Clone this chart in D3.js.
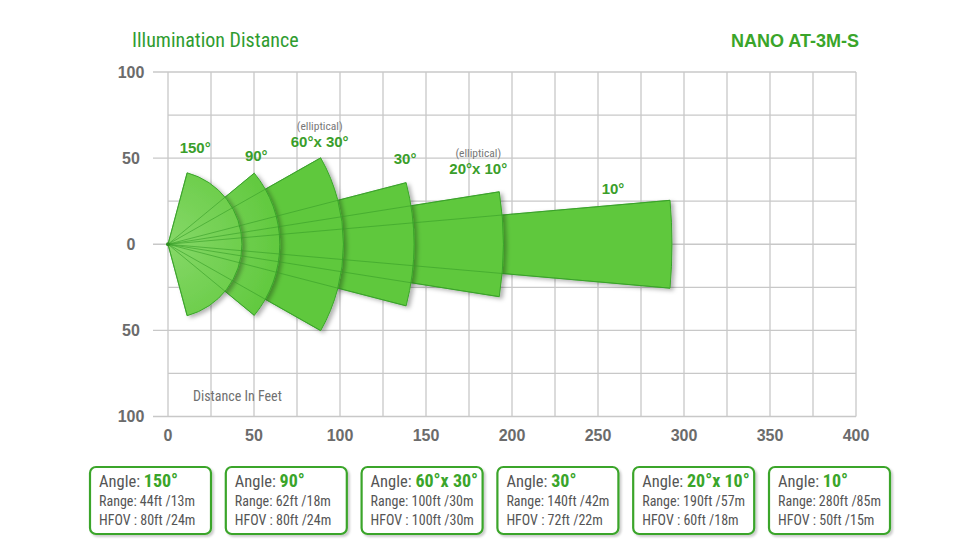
<!DOCTYPE html>
<html>
<head>
<meta charset="utf-8">
<script src="https://cdn.jsdelivr.net/npm/d3@7"></script>
<style>
body { margin: 0; background: #fff; }
svg { display: block; }
.cond { font-family: "Liberation Sans Narrow", "Roboto Condensed", "Arial Narrow", "DejaVu Sans Condensed", sans-serif; }
.sans { font-family: "Liberation Sans", Arial, sans-serif; }
</style>
</head>
<body>
<svg id="chart" width="978" height="550"></svg>
<script>
// beam data
var beamNames = ["150°", "90°", "60°x 30°", "30°", "20°x 10°", "10°"];
var beamNotes = ["", "", "(elliptical)", "", "(elliptical)", ""];
var rangeFt = [44, 62, 100, 140, 190, 280];
var rangeM = [13, 18, 30, 42, 57, 85];
var hfovFt = [80, 80, 100, 72, 60, 50];
var hfovM = [24, 24, 30, 22, 18, 15];
// how far / how wide each wedge is drawn (feet, degrees)
var reachFt = [43, 65, 102, 143, 195, 293];
var spreadDeg = [150, 79, 59, 29, 18, 10];
var xTicks = [0, 50, 100, 150, 200, 250, 300, 350, 400];
var yTicks = [100, 50, 0, -50, -100];

var green = "#3aa52a", fillGreen = "#5fc83c", grey = "#6b6b6b";

var svg = d3.select('#chart');
var x = d3.scaleLinear().domain([0, 400]).range([168, 856]);
var y = d3.scaleLinear().domain([-100, 100]).range([416.5, 72]);
var unit = x(1) - x(0);

var defs = svg.append('defs');
var sh = defs.append('filter').attr('id', 'beamShadow')
    .attr('x', '-20%').attr('y', '-20%').attr('width', '140%').attr('height', '140%');
sh.append('feDropShadow').attr('dx', 3).attr('dy', 2).attr('stdDeviation', 2)
    .attr('flood-color', '#000').attr('flood-opacity', 0.3);
var bs = defs.append('filter').attr('id', 'boxShadow')
    .attr('x', '-10%').attr('y', '-10%').attr('width', '130%').attr('height', '130%');
bs.append('feDropShadow').attr('dx', 2).attr('dy', 2).attr('stdDeviation', 1.2)
    .attr('flood-color', '#000').attr('flood-opacity', 0.2);
var grad = defs.append('radialGradient').attr('id', 'beamFill')
    .attr('gradientUnits', 'userSpaceOnUse').attr('cx', 0).attr('cy', 0).attr('r', 120);
grad.append('stop').attr('offset', 0).attr('stop-color', '#86d868');
grad.append('stop').attr('offset', 1).attr('stop-color', fillGreen);

// titles
svg.append('text').attr('class', 'cond').attr('x', 132).attr('y', 47)
    .attr('font-size', 20).attr('fill', '#2f9c30').text('Illumination Distance');
svg.append('text').attr('class', 'sans').attr('x', 859).attr('y', 47)
    .attr('text-anchor', 'end').attr('font-size', 18).attr('font-weight', 'bold')
    .attr('fill', green).text('NANO AT-3M-S');

// grid
var grid = svg.append('g').attr('stroke', '#c8c8c8').attr('stroke-width', 1.3);
grid.selectAll('.v').data(d3.range(0, 401, 25)).enter().append('line')
    .attr('x1', d => x(d)).attr('x2', d => x(d))
    .attr('y1', y(100)).attr('y2', y(-100));
grid.selectAll('.h').data(d3.range(-100, 101, 25)).enter().append('line')
    .attr('x1', d => d % 50 === 0 ? 153 : x(0)).attr('x2', x(400))
    .attr('y1', d => y(d)).attr('y2', d => y(d));

// tick labels
svg.selectAll('.ytick').data(yTicks).enter().append('text')
    .attr('class', 'sans').attr('x', 131).attr('y', d => y(d)).attr('dy', '0.36em')
    .attr('text-anchor', 'middle').attr('font-size', 16).attr('font-weight', 'bold')
    .attr('fill', grey).text(d => Math.abs(d));
svg.selectAll('.xtick').data(xTicks).enter().append('text')
    .attr('class', 'sans').attr('x', d => x(d)).attr('y', y(-100) + 24)
    .attr('text-anchor', 'middle').attr('font-size', 16).attr('font-weight', 'bold')
    .attr('fill', grey).text(d => d);
svg.append('text').attr('class', 'cond').attr('x', 193).attr('y', 401)
    .attr('font-size', 14).attr('fill', '#707070').text('Distance In Feet');

// wedges, longest at the back
var beams = beamNames.map((n, i) => ({
    i: i, r: reachFt[i] * unit, half: spreadDeg[i] / 2 * Math.PI / 180
}));
var arc = d3.arc().innerRadius(0);
var g = svg.append('g').attr('transform', 'translate(' + x(0) + ',' + y(0) + ')');
g.selectAll('path.beam').data(beams.slice().reverse()).enter().append('path')
    .attr('class', 'beam')
    .attr('d', d => arc({ outerRadius: d.r, startAngle: Math.PI / 2 - d.half, endAngle: Math.PI / 2 + d.half }))
    .attr('fill', 'url(#beamFill)').attr('stroke', green).attr('stroke-width', 1)
    .attr('filter', 'url(#beamShadow)');

// edge rays seen through the wedges
var rays = [];
beams.forEach(d => { rays.push({ d: d, s: 1 }); rays.push({ d: d, s: -1 }); });
g.selectAll('line.ray').data(rays).enter().append('line')
    .attr('x1', 0).attr('y1', 0)
    .attr('x2', e => e.d.r * Math.cos(e.d.half))
    .attr('y2', e => -e.s * e.d.r * Math.sin(e.d.half))
    .attr('stroke', '#3a9f2a').attr('stroke-opacity', 0.7).attr('stroke-width', 0.9);
g.append('circle').attr('r', 2).attr('fill', '#2f8f22');

// angle labels, nudged from each wedge's upper corner
var labelNudge = [[8, -20], [2, -12], [-1, -11], [-1, -19], [-21, -18], [-57, -6]];
beams.forEach(d => {
    var cx = x(0) + d.r * Math.cos(d.half) + labelNudge[d.i][0];
    var cy = y(0) - d.r * Math.sin(d.half) + labelNudge[d.i][1];
    svg.append('text').attr('class', 'sans').attr('x', cx).attr('y', cy)
        .attr('text-anchor', 'middle').attr('font-size', 15).attr('font-weight', 'bold')
        .attr('fill', '#3a9e2a').text(beamNames[d.i]);
    if (beamNotes[d.i]) {
        svg.append('text').attr('class', 'cond').attr('x', cx).attr('y', cy - 17)
            .attr('text-anchor', 'middle').attr('font-size', 11.5)
            .attr('fill', '#777').text(beamNotes[d.i]);
    }
});

// spec boxes
var boxW = 121, boxH = 67, boxStep = 135.8, boxX0 = 90, boxY = 467;
var box = svg.selectAll('g.box').data(beamNames).enter().append('g')
    .attr('class', 'box')
    .attr('transform', (d, i) => 'translate(' + (boxX0 + i * boxStep) + ',' + boxY + ')');
box.append('rect').attr('width', boxW).attr('height', boxH).attr('rx', 6)
    .attr('fill', '#fff').attr('stroke', green).attr('stroke-width', 2.2)
    .attr('filter', 'url(#boxShadow)');
var t1 = box.append('text').attr('class', 'cond').attr('x', 9).attr('y', 20);
t1.append('tspan').attr('font-size', 16.5).attr('fill', '#555').text('Angle: ');
t1.append('tspan').attr('font-size', 18).attr('font-weight', 'bold').attr('fill', '#3aa52a').text(d => d);
box.append('text').attr('class', 'cond').attr('x', 9).attr('y', 39)
    .attr('font-size', 14).attr('fill', '#555')
    .text((d, i) => 'Range: ' + rangeFt[i] + 'ft /' + rangeM[i] + 'm');
box.append('text').attr('class', 'cond').attr('x', 9).attr('y', 58)
    .attr('font-size', 14).attr('fill', '#555')
    .text((d, i) => 'HFOV : ' + hfovFt[i] + 'ft /' + hfovM[i] + 'm');
</script>
</body>
</html>
